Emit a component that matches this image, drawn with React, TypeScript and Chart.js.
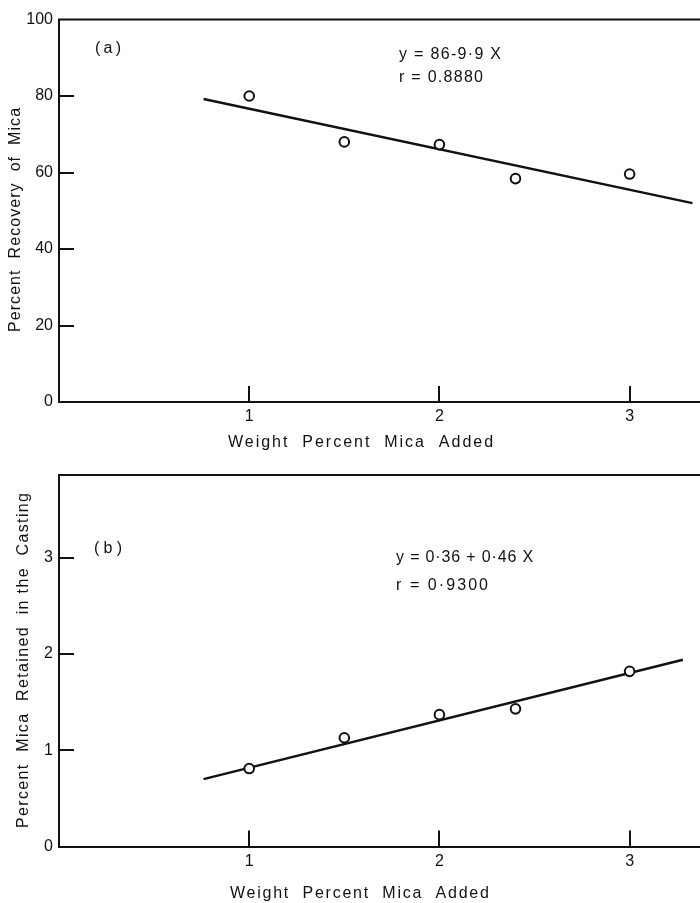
import React, { useEffect, useRef } from "react";
import { Chart, registerables } from "chart.js";
Chart.register(...registerables);

// ---- shared ----
const xTickValues = [1, 2, 3];
const xTitle = "Weight  Percent  Mica  Added";

// ---- panel (a) ----
const aAdded = [1, 1.5, 2, 2.4, 3];
const aRecovery = [80, 68, 67.3, 58.4, 59.6];
const aFitX = [0.76, 3.33];
const aFitY = [79.2, 52.0];
const aYTicks = [0, 20, 40, 60, 80, 100];
const aYTitle = "Percent  Recovery  of  Mica";
const aLabel = "(a)";
const aEquation = "y = 86-9·9 X";
const aCorr = "r = 0.8880";

// ---- panel (b) ----
const bAdded = [1, 1.5, 2, 2.4, 3];
const bRetained = [0.81, 1.13, 1.37, 1.43, 1.82];
const bFitX = [0.76, 3.28];
const bFitY = [0.7, 1.94];
const bYTicks = [0, 1, 2, 3];
const bYTitle = "Percent  Mica  Retained  in the  Casting";
const bLabel = "(b)";
const bEquation = "y = 0·36 + 0·46 X";
const bCorr = "r = 0·9300";

const FONT = "'Liberation Sans', Arial, Helvetica, sans-serif";
const INK = "#111";

type TextItem = { text: string; x: number; y: number; w: number };
type Panel = {
  height: number;
  padTop: number;
  axisBottom: number;
  xMax: number;
  yMax: number;
  yTicks: number[];
  px: number[];
  py: number[];
  fx: number[];
  fy: number[];
  yTitle: string;
  yTitlePos: { x: number; y: number; len: number };
  xTitlePos: { x: number; y: number; w: number };
  texts: TextItem[];
};

function spacedText(
  ctx: CanvasRenderingContext2D,
  text: string,
  left: number,
  cy: number,
  target: number
) {
  (ctx as any).letterSpacing = "0px";
  const w = ctx.measureText(text).width;
  const n = Array.from(text).length;
  const ls = n > 1 ? (target - w) / (n - 1) : 0;
  (ctx as any).letterSpacing = ls.toFixed(2) + "px";
  ctx.textAlign = "left";
  ctx.textBaseline = "middle";
  ctx.fillText(text, left, cy);
  (ctx as any).letterSpacing = "0px";
}

function buildChart(canvas: HTMLCanvasElement, p: Panel) {
  const deco = {
    id: "deco",
    afterDraw(chart: any) {
      const { ctx, chartArea, scales } = chart;
      const xs = scales.x;
      const ys = scales.y;
      ctx.save();
      ctx.strokeStyle = INK;
      ctx.lineWidth = 2;
      ctx.beginPath();
      ctx.moveTo(chartArea.left - 1, chartArea.top);
      ctx.lineTo(chartArea.right + 2, chartArea.top);
      for (const v of xTickValues) {
        const x = Math.round(xs.getPixelForValue(v));
        ctx.moveTo(x, chartArea.bottom);
        ctx.lineTo(x, chartArea.bottom - 16);
      }
      for (const v of p.yTicks) {
        if (v <= 0 || v >= p.yMax) continue;
        const y = Math.round(ys.getPixelForValue(v));
        ctx.moveTo(chartArea.left, y);
        ctx.lineTo(chartArea.left + 15, y);
      }
      ctx.stroke();

      ctx.fillStyle = INK;
      ctx.font = `16px ${FONT}`;
      for (const t of p.texts) spacedText(ctx, t.text, t.x, t.y, t.w);
      spacedText(ctx, xTitle, p.xTitlePos.x, p.xTitlePos.y, p.xTitlePos.w);

      ctx.save();
      ctx.translate(p.yTitlePos.x, p.yTitlePos.y);
      ctx.rotate(-Math.PI / 2);
      spacedText(ctx, p.yTitle, -p.yTitlePos.len / 2, 0, p.yTitlePos.len);
      ctx.restore();
      ctx.restore();
    },
  };

  return new Chart(canvas, {
    type: "scatter",
    data: {
      datasets: [
        {
          data: p.px.map((x, i) => ({ x, y: p.py[i] })),
          pointRadius: 4.8,
          pointBorderWidth: 2,
          pointBackgroundColor: "#fff",
          pointBorderColor: INK,
          showLine: false,
        },
        {
          data: p.fx.map((x, i) => ({ x, y: p.fy[i] })),
          showLine: true,
          borderColor: INK,
          borderWidth: 2.5,
          pointRadius: 0,
        },
      ],
    },
    options: {
      animation: false,
      responsive: false,
      devicePixelRatio: 1,
      layout: {
        autoPadding: false,
        padding: { top: p.padTop, left: 0, right: 0, bottom: 0 },
      },
      plugins: { legend: { display: false }, tooltip: { enabled: false } },
      scales: {
        x: {
          type: "linear",
          min: 0,
          max: p.xMax,
          grid: { display: false, drawTicks: false },
          border: { display: true, color: INK, width: 2 },
          ticks: {
            color: INK,
            font: { family: FONT, size: 16 },
            padding: 5,
          },
          afterBuildTicks: (s: any) => {
            s.ticks = xTickValues.map((v) => ({ value: v }));
          },
          afterFit: (s: any) => {
            s.height = p.height - p.axisBottom;
            s.paddingLeft = 0;
            s.paddingRight = 0;
          },
        },
        y: {
          type: "linear",
          min: 0,
          max: p.yMax,
          grid: { display: false, drawTicks: false },
          border: { display: true, color: INK, width: 2 },
          ticks: {
            color: INK,
            font: { family: FONT, size: 16 },
            padding: 6,
          },
          afterBuildTicks: (s: any) => {
            s.ticks = p.yTicks.map((v) => ({ value: v }));
          },
          afterFit: (s: any) => {
            s.width = 59;
            s.paddingTop = 0;
            s.paddingBottom = 0;
          },
        },
      },
    },
    plugins: [deco],
  } as any);
}

const panelA: Panel = {
  height: 450,
  padTop: 19.5,
  axisBottom: 402,
  xMax: 3.37,
  yMax: 100,
  yTicks: aYTicks,
  px: aAdded,
  py: aRecovery,
  fx: aFitX,
  fy: aFitY,
  yTitle: aYTitle,
  yTitlePos: { x: 16, y: 220, len: 224 },
  xTitlePos: { x: 228, y: 443, w: 265 },
  texts: [
    { text: aLabel, x: 95, y: 49, w: 26 },
    { text: aEquation, x: 399, y: 55, w: 102 },
    { text: aCorr, x: 399, y: 78, w: 84 },
  ],
};

const panelB: Panel = {
  height: 453,
  padTop: 25,
  axisBottom: 396.5,
  xMax: 3.37,
  yMax: 3.86,
  yTicks: bYTicks,
  px: bAdded,
  py: bRetained,
  fx: bFitX,
  fy: bFitY,
  yTitle: bYTitle,
  yTitlePos: { x: 24, y: 210.5, len: 335 },
  xTitlePos: { x: 230, y: 444, w: 259 },
  texts: [
    { text: bLabel, x: 94, y: 99, w: 28 },
    { text: bEquation, x: 396, y: 108, w: 137 },
    { text: bCorr, x: 396, y: 136, w: 92 },
  ],
};

function PanelCanvas({ panel }: { panel: Panel }) {
  const ref = useRef<HTMLCanvasElement | null>(null);
  useEffect(() => {
    if (!ref.current) return;
    const c = buildChart(ref.current, panel);
    return () => c.destroy();
  }, [panel]);
  return (
    <canvas
      ref={ref}
      width={700}
      height={panel.height}
      style={{ display: "block", width: 700, height: panel.height }}
    />
  );
}

export default function App() {
  return (
    <div
      style={{
        position: "absolute",
        left: 0,
        top: 0,
        width: 700,
        height: 903,
        overflow: "hidden",
        background: "#fff",
      }}
    >
      <PanelCanvas panel={panelA} />
      <PanelCanvas panel={panelB} />
    </div>
  );
}
